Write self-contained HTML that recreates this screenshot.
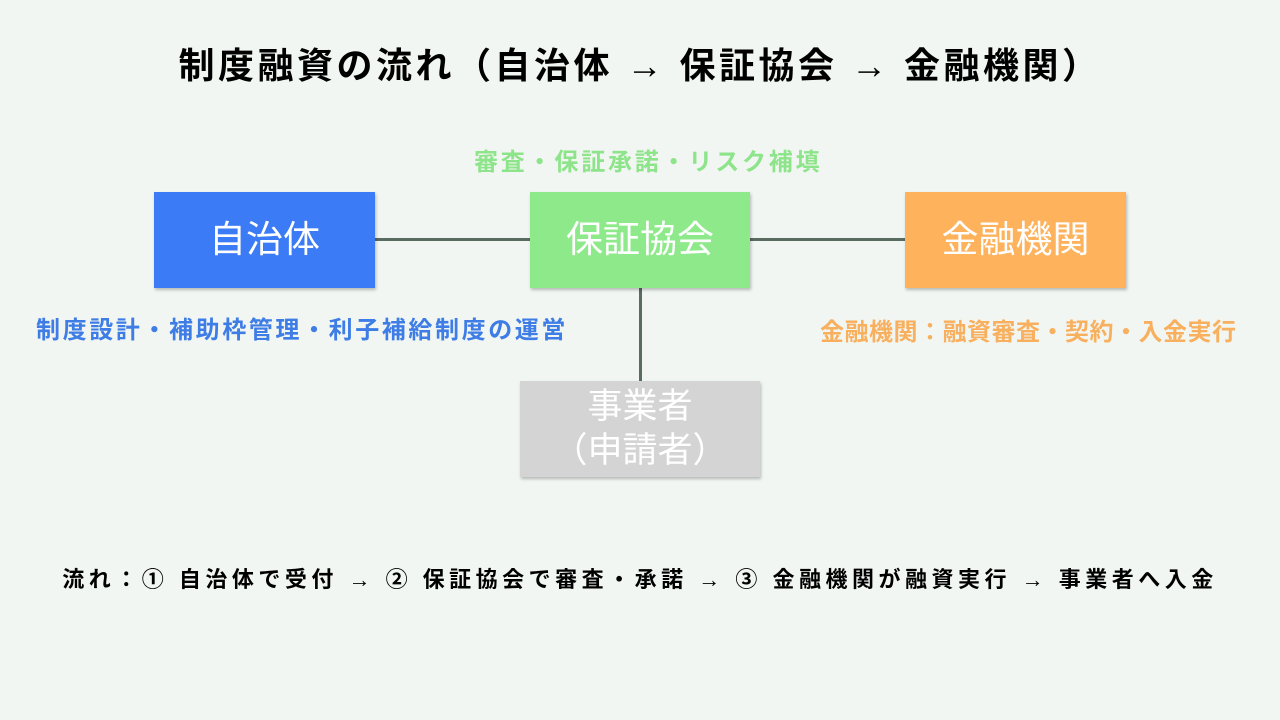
<!DOCTYPE html>
<html><head><meta charset="utf-8"><style>
body{margin:0;width:1280px;height:720px;background:#f1f6f2;position:relative;overflow:hidden;font-family:"Liberation Sans","Noto Sans CJK JP",sans-serif;}
.t{position:absolute;white-space:nowrap;font-weight:bold;}
.box{position:absolute;color:#fff;display:flex;align-items:center;justify-content:center;text-align:center;font-size:37px;box-shadow:1px 2px 3px rgba(0,0,0,0.25);line-height:1.2;}
.ln{position:absolute;background:#5a6b60;}
</style></head><body>
<div class="t" style="left:0;width:1280px;text-align:center;top:37px;font-size:36px;letter-spacing:3.5px;color:#000;">制度融資の流れ（自治体 → 保証協会 → 金融機関）</div>
<div class="t" style="left:474px;top:142px;font-size:24px;letter-spacing:2.8px;color:#8ee48a;">審査・保証承諾・リスク補填</div>
<div class="ln" style="left:375px;top:238px;width:156px;height:3px;"></div>
<div class="ln" style="left:750px;top:238px;width:156px;height:3px;"></div>
<div class="ln" style="left:639px;top:288px;width:3px;height:94px;"></div>
<div class="box" style="left:154px;top:192px;width:221px;height:96px;background:#3b7bf6;">自治体</div>
<div class="box" style="left:530px;top:192px;width:220px;height:96px;background:#8ee98a;">保証協会</div>
<div class="box" style="left:905px;top:192px;width:221px;height:96px;background:#feb25c;">金融機関</div>
<div class="box" style="left:520px;top:381px;width:240px;height:96px;background:#d4d4d4;font-size:35px;line-height:44px;">事業者<br>（申請者）</div>
<div class="t" style="left:36px;top:310px;font-size:24px;letter-spacing:2.6px;color:#3e7ce6;">制度設計・補助枠管理・利子補給制度の運営</div>
<div class="t" style="left:820px;top:312px;font-size:24px;letter-spacing:0.5px;color:#f9b05e;">金融機関：融資審査・契約・入金実行</div>
<div class="t" style="left:0;width:1280px;text-align:center;top:562px;font-size:22px;letter-spacing:4.5px;color:#000;">流れ：① 自治体で受付 → ② 保証協会で審査・承諾 → ③ 金融機関が融資実行 → 事業者へ入金</div>
</body></html>
